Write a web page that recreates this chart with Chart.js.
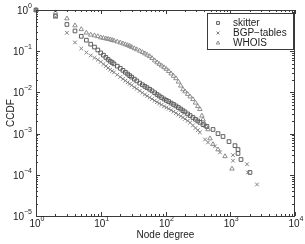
<!DOCTYPE html>
<html>
<head>
<meta charset="utf-8">
<script src="https://cdn.jsdelivr.net/npm/chart.js@4/dist/chart.umd.min.js"></script>
<style>
  body { margin: 0; background: #fff; }
  #chart { display: block; }
</style>
</head>
<body>
<canvas id="chart" width="305" height="244"></canvas>
<script>
// values (node degree vs CCDF)
var skitterDeg = [1,2,3,4,5,6,7,8,9,10,11,12,13,14,15,16,18,20,22,24,26,28,30,33,36,40,44,48,52,57,62,68,74,80,87,95,103,112,122,133,145,158,172,186,200,220,240,265,290,315,340,380,437,542,647,773,957,1183,1318,1318,1466,2018];
var skitterCcdf = [1,0.71,0.445,0.31,0.23,0.185,0.148,0.126,0.107,0.091,0.080,0.0706,0.063,0.0571,0.053,0.0493,0.0433,0.0385,0.0343,0.0308,0.0279,0.0255,0.0235,0.021,0.019,0.0168,0.0153,0.014,0.013,0.0119,0.0109,0.0098,0.0089,0.0082,0.0075,0.0069,0.0064,0.006,0.0055,0.0051,0.0047,0.0043,0.00395,0.0036,0.00335,0.003,0.00274,0.00246,0.00223,0.00203,0.00187,0.00165,0.00149,0.00126,0.001,0.00085,0.00064,0.00051,0.00041,0.00033,0.000235,0.000114];

var bgpDeg = [1,2,3,4,5,6,7,8,9,10,11,12,13,14,15,16,18,20,22,24,26,28,30,33,36,40,44,48,52,57,62,68,74,80,87,95,103,112,122,133,145,158,172,186,200,220,240,265,290,315,340,408,453,581,695,1102,1102,1816,1879,2588];
var bgpCcdf = [1,0.68,0.28,0.163,0.116,0.093,0.079,0.069,0.062,0.055,0.0486,0.0435,0.0392,0.0357,0.033,0.0306,0.0268,0.0237,0.0213,0.0192,0.0175,0.0161,0.0149,0.0134,0.0122,0.0109,0.0098,0.0089,0.0082,0.0075,0.0069,0.0063,0.0058,0.0054,0.005,0.0046,0.0043,0.004,0.0037,0.0034,0.00314,0.00288,0.00265,0.00246,0.00227,0.00204,0.00185,0.00158,0.00137,0.00121,0.00107,0.00072,0.00061,0.00049,0.00035,0.0003,0.00022,0.00018,0.000114,0.0000582];

var whoisDeg = [1,2,3,4,5,6,7,8,9,10,11,12,13,14,15,16,18,20,22,24,26,28,30,33,36,40,44,48,52,57,62,68,74,80,87,95,103,112,122,133,145,158,172,186,200,220,240,265,290,315,340,365,380,400,420,453,486,541,647,830,1064];
var whoisCcdf = [1,0.87,0.62,0.42,0.34,0.28,0.25,0.24,0.23,0.215,0.208,0.202,0.197,0.192,0.185,0.180,0.170,0.162,0.153,0.146,0.139,0.133,0.126,0.117,0.110,0.102,0.0946,0.0877,0.0815,0.075,0.0675,0.0594,0.0532,0.0488,0.0444,0.0404,0.0369,0.0327,0.0286,0.025,0.0219,0.0181,0.0145,0.0118,0.0105,0.0091,0.0079,0.0068,0.0056,0.0046,0.0039,0.0027,0.0022,0.00174,0.0015,0.00126,0.00076,0.00055,0.00041,0.00028,0.00014];

var xTicks = [1, 10, 100, 1000, 10000];
var xTickExp = ['0', '1', '2', '3', '4'];
var yTicks = [1, 0.1, 0.01, 0.001, 0.0001, 0.00001];
var yTickExp = ['0', '\u22121', '\u22122', '\u22123', '\u22124', '\u22125'];
var seriesNames = ['skitter', 'BGP\u2212tables', 'WHOIS'];

var FONT = '"Liberation Sans", Arial, Helvetica, sans-serif';
var AXIS_COLOR = '#3a3a3a';

function pares(xs, ys) {
    return xs.map(function (x, i) { return { x: x, y: ys[i] }; });
}

var series = [
    { label: seriesNames[0], data: pares(skitterDeg, skitterCcdf), pointStyle: 'rect', color: '#5e5e5e' },
    { label: seriesNames[1], data: pares(bgpDeg, bgpCcdf), pointStyle: 'crossRot', color: '#808080' },
    { label: seriesNames[2], data: pares(whoisDeg, whoisCcdf), pointStyle: 'triangle', color: '#8e8e8e' }
];

function drawPow(ctx, exp, x, y, align) {
    ctx.font = '10px ' + FONT;
    var w1 = ctx.measureText('10').width;
    ctx.font = '7px ' + FONT;
    var w2 = ctx.measureText(exp).width;
    var start = align === 'right' ? x - w1 - w2 : x - (w1 + w2) / 2;
    ctx.textAlign = 'left';
    ctx.textBaseline = 'alphabetic';
    ctx.font = '10px ' + FONT;
    ctx.fillText('10', start, y);
    ctx.font = '7px ' + FONT;
    ctx.fillText(exp, start + w1, y - 6);
}

// box, inward ticks, tick labels and axis titles, drawn matlab style
var ejes = {
    id: 'ejes',
    afterDatasetsDraw: function (chart) {
        var ctx = chart.ctx;
        var a = chart.chartArea;
        var sx = chart.scales.x, sy = chart.scales.y;
        ctx.save();
        ctx.strokeStyle = AXIS_COLOR;
        ctx.fillStyle = '#222';
        ctx.lineWidth = 1;
        ctx.strokeRect(a.left + 0.5, a.top + 0.5, a.right - a.left - 1, a.bottom - a.top);

        ctx.beginPath();
        xTicks.forEach(function (v, i) {
            for (var m = 1; m <= 9; m++) {
                if (i === xTicks.length - 1 && m > 1) break;
                var px = Math.round(sx.getPixelForValue(v * m)) + 0.5;
                var len = m === 1 ? 4 : 2;
                ctx.moveTo(px, a.bottom); ctx.lineTo(px, a.bottom - len);
                ctx.moveTo(px, a.top); ctx.lineTo(px, a.top + len);
            }
        });
        yTicks.forEach(function (v) {
            for (var m = 1; m <= 9; m++) {
                if (v * m > 1) break;
                var py = Math.round(sy.getPixelForValue(v * m)) + 0.5;
                var len = m === 1 ? 4 : 2;
                ctx.moveTo(a.left, py); ctx.lineTo(a.left + len, py);
                ctx.moveTo(a.right - 1, py); ctx.lineTo(a.right - 1 - len, py);
            }
        });
        ctx.stroke();

        xTicks.forEach(function (v, i) {
            drawPow(ctx, xTickExp[i], sx.getPixelForValue(v) + 1, a.bottom + 11, 'center');
        });
        yTicks.forEach(function (v, i) {
            drawPow(ctx, yTickExp[i], a.left - 4, sy.getPixelForValue(v) + 4, 'right');
        });

        ctx.font = '10px ' + FONT;
        ctx.textAlign = 'center';
        ctx.fillText('Node degree', (a.left + a.right) / 2, 238);
        ctx.translate(14, (a.top + a.bottom) / 2);
        ctx.rotate(-Math.PI / 2);
        ctx.fillText('CCDF', 0, 0);
        ctx.restore();

        // legend box
        ctx.save();
        var bx = 207, by = 13, bw = 86, bh = 36;
        ctx.fillStyle = '#fff';
        ctx.fillRect(bx, by, bw, bh);
        ctx.strokeStyle = AXIS_COLOR;
        ctx.lineWidth = 1;
        ctx.strokeRect(bx + 0.5, by + 0.5, bw, bh);
        series.forEach(function (s, i) {
            var yy = by + 10 + i * 10;
            ctx.fillStyle = 'rgba(0,0,0,0)';
            ctx.strokeStyle = s.color;
            Chart.helpers.drawPoint(ctx, {
                pointStyle: s.pointStyle, radius: 2, rotation: 0, borderWidth: 1
            }, bx + 11, yy);
            ctx.fillStyle = '#222';
            ctx.font = '10px ' + FONT;
            ctx.textAlign = 'left';
            ctx.textBaseline = 'middle';
            ctx.fillText(s.label, bx + 26, yy + 0.5);
        });
        ctx.restore();
    }
};

var canvas = document.getElementById('chart').getContext('2d');
window.grafico = new Chart(canvas, {
    type: 'scatter',
    data: {
        datasets: series.map(function (s) {
            return {
                label: s.label,
                data: s.data,
                pointStyle: s.pointStyle,
                pointRadius: 2.6,
                pointBorderWidth: 1,
                borderColor: s.color,
                backgroundColor: 'rgba(0,0,0,0)',
                showLine: false,
                clip: false
            };
        })
    },
    options: {
        responsive: false,
        animation: false,
        devicePixelRatio: 1,
        layout: { padding: { top: 10, right: 10, left: 0, bottom: 0 } },
        plugins: { legend: { display: false }, tooltip: { enabled: false } },
        scales: {
            x: {
                type: 'logarithmic', min: 1, max: 10000,
                afterBuildTicks: function (s) { s.ticks = xTicks.map(function (v) { return { value: v }; }); },
                afterFit: function (s) { s.height = 28; },
                ticks: { display: false },
                grid: { display: false },
                border: { display: false }
            },
            y: {
                type: 'logarithmic', min: 0.00001, max: 1,
                afterBuildTicks: function (s) { s.ticks = yTicks.map(function (v) { return { value: v }; }); },
                afterFit: function (s) { s.width = 36; },
                ticks: { display: false },
                grid: { display: false },
                border: { display: false }
            }
        }
    },
    plugins: [ejes]
});
</script>
</body>
</html>
